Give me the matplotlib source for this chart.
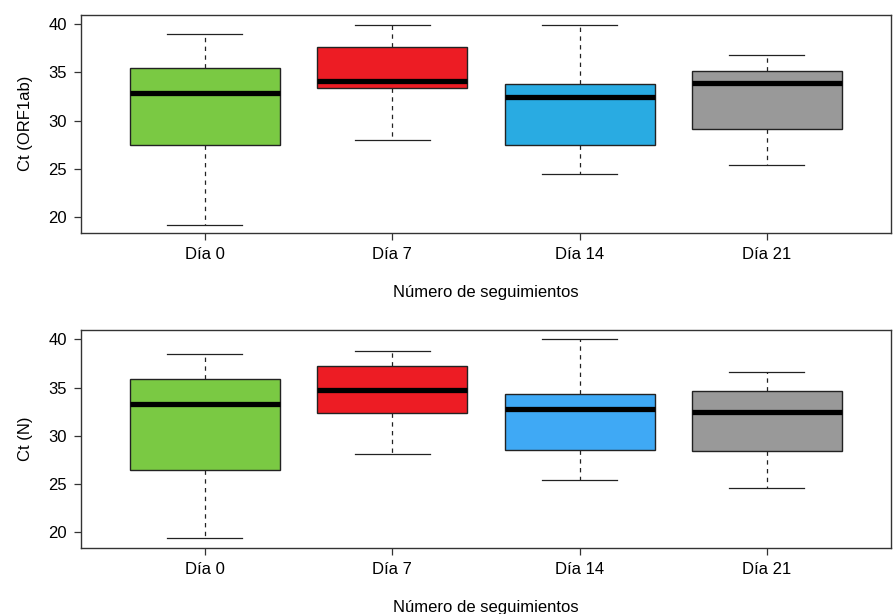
import matplotlib
matplotlib.use('Agg')
import matplotlib.pyplot as plt

plt.rcParams['font.family'] = ['Liberation Sans', 'DejaVu Sans']

days = ['Día 0', 'Día 7', 'Día 14', 'Día 21']

# Ct (ORF1ab)
orf_low = [19.1, 28.0, 24.4, 25.4]
orf_q1 = [27.5, 33.4, 27.5, 29.1]
orf_med = [32.9, 34.1, 32.4, 33.9]
orf_q3 = [35.5, 37.6, 33.8, 35.2]
orf_high = [39.0, 39.9, 39.9, 36.8]

# Ct (N)
n_low = [19.4, 28.1, 25.4, 24.6]
n_q1 = [26.5, 32.4, 28.5, 28.4]
n_med = [33.3, 34.7, 32.8, 32.5]
n_q3 = [35.9, 37.2, 34.3, 34.6]
n_high = [38.5, 38.8, 40.0, 36.6]

orf_colors = ['#7AC943', '#ED1C24', '#29ABE2', '#999999']
n_colors = ['#7AC943', '#ED1C24', '#3FA9F5', '#999999']


def draw(ax, low, q1, med, q3, high, colors, ylabel):
    stats = []
    for i in range(len(days)):
        stats.append({'whislo': low[i], 'q1': q1[i], 'med': med[i],
                      'q3': q3[i], 'whishi': high[i], 'label': days[i]})
    pos = list(range(1, len(days) + 1))
    bp = ax.bxp(stats, positions=pos, widths=0.8, capwidths=0.4,
                showfliers=False, patch_artist=True,
                boxprops=dict(edgecolor='#222222', linewidth=1.0),
                medianprops=dict(color='black', linewidth=3.8, solid_capstyle='butt'),
                whiskerprops=dict(color='#222222', linewidth=0.9, linestyle=(0, (3.5, 3.5))),
                capprops=dict(color='#222222', linewidth=0.9))
    for patch, c in zip(bp['boxes'], colors):
        patch.set_facecolor(c)
    ax.set_xlim(0.34, 4.66)
    ax.set_xticks(pos)
    ax.set_xticklabels(days)
    ax.set_yticks([20, 25, 30, 35, 40])
    ax.tick_params(axis='both', labelsize=12, length=5, width=0.9, color='#333333', pad=5)
    for sp in ax.spines.values():
        sp.set_linewidth(1.0)
        sp.set_color('#333333')
    ax.set_xlabel('Número de seguimientos', fontsize=12, labelpad=17)
    ax.set_ylabel(ylabel, fontsize=12, labelpad=11)


fig = plt.figure(figsize=(8.93, 6.14), dpi=100)
ax1 = fig.add_axes([0.0907, 0.621, 0.9067, 0.355])
ax2 = fig.add_axes([0.0907, 0.1075, 0.9067, 0.355])

draw(ax1, orf_low, orf_q1, orf_med, orf_q3, orf_high, orf_colors, 'Ct (ORF1ab)')
ax1.set_ylim(18.34, 41.0)
draw(ax2, n_low, n_q1, n_med, n_q3, n_high, n_colors, 'Ct (N)')
ax2.set_ylim(18.37, 40.96)

fig.savefig('out.png', dpi=100)
